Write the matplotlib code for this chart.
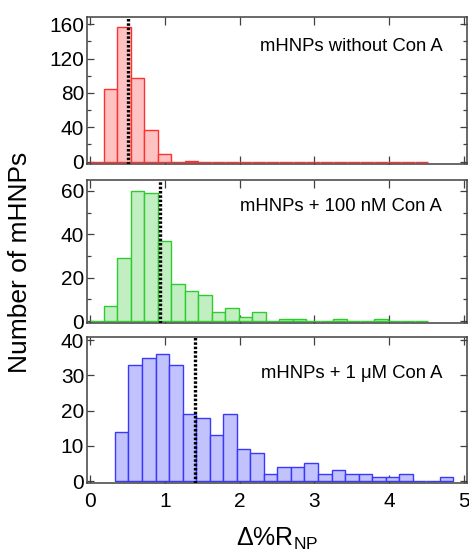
import matplotlib
matplotlib.use("Agg")
import matplotlib.pyplot as plt
from matplotlib.ticker import MultipleLocator

plt.rcParams['font.family'] = ['Liberation Sans', 'DejaVu Sans']
plt.rcParams['mathtext.fontset'] = 'custom'
plt.rcParams['mathtext.rm'] = 'Liberation Sans'
plt.rcParams['mathtext.it'] = 'Liberation Sans:italic'

# ---- data ----
edges_a = [0.000, 0.181, 0.362, 0.542, 0.723, 0.904, 1.085, 1.266, 1.446, 1.627,
           1.808, 1.989, 2.170, 2.350, 2.531, 2.712, 2.893, 3.074, 3.254, 3.435,
           3.616, 3.797, 3.978, 4.158, 4.339, 4.520]
counts_none = [0, 84, 157, 97, 37, 9, 0, 1, 0, 0, 0, 0, 0, 0, 0, 0, 0, 0, 0, 0, 0, 0, 0, 0, 0]
counts_100nM = [0, 7, 29, 60, 59, 37, 17, 14, 12, 4, 6, 2, 4, 0, 1, 1, 0, 0, 1, 0, 0, 1, 0, 0, 0]
edges_b = [0.333, 0.514, 0.695, 0.876, 1.057, 1.238, 1.419, 1.600, 1.781, 1.962,
           2.143, 2.324, 2.505, 2.686, 2.867, 3.048, 3.229, 3.410, 3.591, 3.772,
           3.953, 4.134, 4.315, 4.496, 4.677, 4.858]
counts_1uM = [14, 33, 35, 36, 33, 19, 18, 13, 19, 9, 8, 2, 4, 4, 5, 2, 3, 2, 2, 1, 1, 2, 0, 0, 1]
means = [0.51, 0.93, 1.40]
labels = ['mHNPs without Con A', 'mHNPs + 100 nM Con A', 'mHNPs + 1 \u03bcM Con A']
x_ticks = [0, 1, 2, 3, 4, 5]

W, H = 469, 551
fig = plt.figure(figsize=(W / 100, H / 100), dpi=100)

def box(top, bottom, left=87, right=467):
    return [left / W, 1 - bottom / H, (right - left) / W, (bottom - top) / H]

panels = [
    dict(rect=box(17.3, 164), edges=edges_a, counts=counts_none, face='#ffc2c2', edge='#ff3030',
         ylim=(-2.7, 168), major=40, minor=20, ty=0.80),
    dict(rect=box(180, 323.3), edges=edges_a, counts=counts_100nM, face='#c2efc2', edge='#2ecc2e',
         ylim=(-1.05, 65), major=20, minor=10, ty=0.815),
    dict(rect=box(337.3, 483.3), edges=edges_b, counts=counts_1uM, face='#c2c2fc', edge='#3838ff',
         ylim=(-0.65, 40.8), major=10, minor=None, ty=0.755),
]

frame_c = '#404040'
for i, p in enumerate(panels):
    ax = fig.add_axes(p['rect'])
    e = p['edges']
    lefts = e[:-1]
    widths = [e[k + 1] - e[k] for k in range(len(e) - 1)]
    ax.bar(lefts, p['counts'], width=widths, align='edge', color=p['face'],
           edgecolor=p['edge'], linewidth=1.0, zorder=2)
    ax.axvline(means[i], color='black', lw=2.4, linestyle=(0, (0.75, 0.55)), zorder=3)
    ax.set_xlim(-0.04, 5.04)
    ax.set_ylim(*p['ylim'])
    ax.xaxis.set_major_locator(plt.FixedLocator(x_ticks))
    ax.yaxis.set_major_locator(MultipleLocator(p['major']))
    if p['minor']:
        ax.yaxis.set_minor_locator(MultipleLocator(p['minor']))
    ax.tick_params(which='both', direction='in', top=True, right=True,
                   color=frame_c, width=0.9, labelsize=15, pad=2)
    ax.tick_params(which='major', length=5)
    ax.tick_params(which='minor', length=3)
    ax.tick_params(axis='x', which='major', length=5.5, pad=6)
    if i < 2:
        ax.tick_params(axis='x', labelbottom=False)
    for s in ax.spines.values():
        s.set_color(frame_c)
        s.set_linewidth(1.1)
    ax.text(0.935, p['ty'], labels[i], transform=ax.transAxes, ha='right', va='center',
            fontsize=13.3)

fig.text(20 / W, 1 - 262 / H, 'Number of mHNPs', rotation=90, ha='center', va='center',
         fontsize=19)
fig.text(277 / W, 1 - 526 / H, r'$\Delta$%R$_{\mathrm{NP}}$', ha='center', va='top',
         fontsize=18)

fig.savefig('out.png', dpi=100)
